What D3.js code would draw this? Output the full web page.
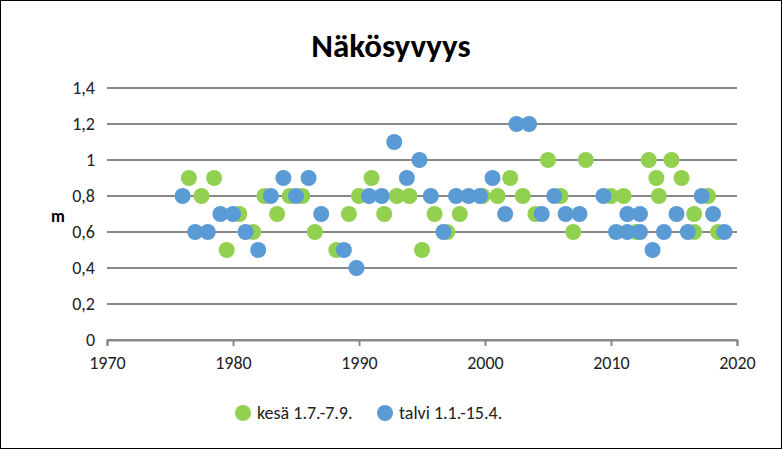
<!DOCTYPE html><html><head><meta charset="utf-8"><script src="https://cdn.jsdelivr.net/npm/d3@7"></script>
<style>body{margin:0;background:#fff;font-family:Calibri,Carlito,"Liberation Sans",Arial,sans-serif}</style></head><body><svg id="c" width="782" height="449"></svg>
<script>
const kesaYears=[1976.5,1977.5,1978.5,1979.5,1980.5,1981.6,1982.5,1983.5,1984.5,1985.5,1986.5,1988.2,1989.2,1990,1991,1992,1993,1994,1995,1996,1997,1998,1999.8,2001,2002,2003,2004,2005,2006,2007,2008,2010,2011,2012,2013,2013.6,2013.8,2014.8,2015.6,2016.6,2016.6,2017.7,2018.5];
const kesaValues=[0.9,0.8,0.9,0.5,0.7,0.6,0.8,0.7,0.8,0.8,0.6,0.5,0.7,0.8,0.9,0.7,0.8,0.8,0.5,0.7,0.6,0.7,0.8,0.8,0.9,0.8,0.7,1.0,0.8,0.6,1.0,0.8,0.8,0.6,1.0,0.9,0.8,1.0,0.9,0.7,0.6,0.8,0.6];
const talviYears=[1976,1977,1978,1979,1980,1981,1982,1983,1984,1985,1986,1987,1988.8,1989.8,1990.8,1991.8,1992.8,1993.8,1994.8,1995.7,1996.7,1997.7,1998.7,1999.6,2000.6,2001.6,2002.5,2003.5,2004.5,2005.5,2006.4,2007.5,2009.4,2010.4,2011.3,2011.3,2012.3,2012.3,2013.3,2014.2,2015.2,2016.1,2017.2,2018.1,2019];
const talviValues=[0.8,0.6,0.6,0.7,0.7,0.6,0.5,0.8,0.9,0.8,0.9,0.7,0.5,0.4,0.8,0.8,1.1,0.9,1.0,0.8,0.6,0.8,0.8,0.8,0.9,0.7,1.2,1.2,0.7,0.8,0.7,0.7,0.8,0.6,0.7,0.6,0.7,0.6,0.5,0.6,0.7,0.6,0.8,0.7,0.6];
const xTicks=[1970,1980,1990,2000,2010,2020];
const yTicks=[0,0.2,0.4,0.6,0.8,1,1.2,1.4];
const svg=d3.select("#c");
svg.append("rect").attr("x",0.5).attr("y",0.5).attr("width",781).attr("height",448).attr("fill","#fff").attr("stroke","#000");
const x=d3.scaleLinear().domain([1970,2020]).range([107,737]);
const y=d3.scaleLinear().domain([0,1.4]).range([340,88]);
svg.append("g").selectAll("line").data(yTicks).join("line").attr("x1",107).attr("x2",737).attr("y1",d=>y(d)).attr("y2",d=>y(d)).attr("stroke","#888").attr("stroke-width",2);
const fmt=d=>String(d).replace(".",",");
const yAx=svg.append("g").attr("transform","translate(107,0)").call(d3.axisLeft(y).tickValues(yTicks).tickFormat(fmt).tickSize(0).tickPadding(12));
yAx.select(".domain").remove();
const xAx=svg.append("g").attr("transform","translate(0,340)").call(d3.axisBottom(x).tickValues(xTicks).tickFormat(d3.format("d")).tickSize(6).tickPadding(10));
xAx.selectAll("path,line").attr("stroke","#888").attr("stroke-width",2);
svg.selectAll(".tick text").attr("font-size",18).attr("fill","#222").attr("font-family","Calibri,Carlito,'Liberation Sans',sans-serif");
svg.append("text").attr("x",391).attr("y",57).attr("text-anchor","middle").attr("font-size",33).attr("font-weight","bold").text("Näkösyvyys");
svg.append("text").attr("x",58).attr("y",222).attr("text-anchor","middle").attr("font-size",17).attr("font-weight","bold").text("m");
const g=svg.append("g");
g.selectAll(".k").data(kesaYears.map((d,i)=>[d,kesaValues[i]])).join("circle").attr("cx",d=>x(d[0])).attr("cy",d=>y(d[1])).attr("r",8).attr("fill","#92d050");
g.selectAll(".t").data(talviYears.map((d,i)=>[d,talviValues[i]])).join("circle").attr("cx",d=>x(d[0])).attr("cy",d=>y(d[1])).attr("r",8).attr("fill","#5b9bd5");
const leg=[["kesä 1.7.-7.9.","#92d050",243],["talvi 1.1.-15.4.","#5b9bd5",385]];
leg.forEach(([t,c,lx])=>{svg.append("circle").attr("cx",lx).attr("cy",413).attr("r",8).attr("fill",c);
svg.append("text").attr("x",lx+14).attr("y",419).attr("font-size",18).attr("fill","#222").text(t);});
</script></body></html>
